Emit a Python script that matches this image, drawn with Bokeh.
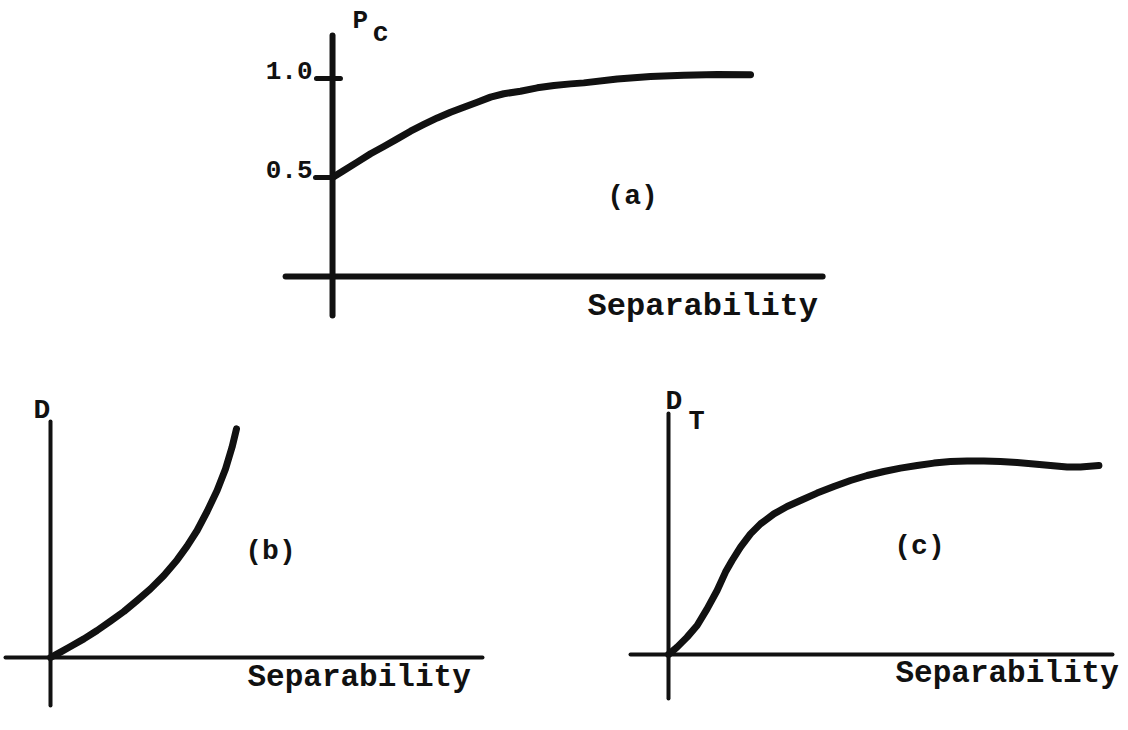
from bokeh.plotting import figure
from bokeh.layouts import column, row
from bokeh.models import Spacer
from bokeh.core.properties import value
from bokeh.embed import file_html
from bokeh.resources import INLINE

# ---- (a) probability of correct classification vs separability ----
sep_a = [0.0, 0.057, 0.125, 0.192, 0.259, 0.327, 0.394, 0.461, 0.529, 0.596,
         0.663, 0.731, 0.798, 0.865, 0.949, 1.034, 1.118, 1.202, 1.269, 1.438,
         1.606, 1.774, 1.943, 2.111]
pc_a = [0.50, 0.535, 0.578, 0.620, 0.657, 0.695, 0.734, 0.768, 0.801, 0.830,
        0.855, 0.880, 0.906, 0.923, 0.936, 0.953, 0.965, 0.973, 0.978, 0.998,
        1.010, 1.017, 1.020, 1.019]
a_xaxis = [-0.237, 2.475]
a_yaxis = [-0.197, 1.217]
a_ticks = [1.0, 0.5]
a_tick_labels = ["1.0", "0.5"]
a_tick_left = [-0.081, -0.086]
a_tick_right = [0.04, 0.0]

# ---- (b) divergence D vs separability ----
sep_b = [0.0, 0.05, 0.10, 0.167, 0.233, 0.30, 0.367, 0.433, 0.50, 0.567, 0.633,
         0.683, 0.733, 0.783, 0.833, 0.875, 0.908, 0.93]
d_b = [0.0, 0.027, 0.055, 0.093, 0.135, 0.182, 0.23, 0.285, 0.343, 0.41, 0.488,
       0.557, 0.635, 0.73, 0.835, 0.943, 1.052, 1.143]
b_xaxis = [-0.225, 2.16]
b_yaxis = [-0.24, 1.18]

# ---- (c) transformed divergence D_T vs separability ----
sep_c = [0.0, 0.043, 0.093, 0.143, 0.193, 0.243, 0.285, 0.318, 0.36, 0.41, 0.46,
         0.527, 0.593, 0.66, 0.743, 0.827, 0.91, 0.993, 1.077, 1.16, 1.243,
         1.327, 1.41, 1.493, 1.577, 1.66, 1.743, 1.827, 1.91, 1.993, 2.06, 2.152]
dt_c = [0.0, 0.037, 0.087, 0.145, 0.228, 0.32, 0.412, 0.47, 0.537, 0.603, 0.653,
        0.703, 0.74, 0.77, 0.807, 0.84, 0.87, 0.895, 0.915, 0.932, 0.945,
        0.957, 0.965, 0.968, 0.967, 0.965, 0.96, 0.953, 0.945, 0.937, 0.937, 0.945]
c_xaxis = [-0.19, 2.22]
c_yaxis = [-0.22, 1.205]

FONT = value("Liberation Mono")
INK = "#111111"
LIFT = 0.035  # raise alphabetic-baseline labels to sit on their baseline


def blank(width, height, xr, yr):
    p = figure(width=width, height=height, x_range=xr, y_range=yr,
               output_backend="svg", toolbar_location=None,
               min_border=0, min_border_left=0, min_border_right=0,
               min_border_top=0, min_border_bottom=0)
    p.axis.visible = False
    p.grid.visible = False
    p.outline_line_color = None
    p.background_fill_color = "white"
    p.border_fill_color = "white"
    return p


def label(p, x, y, txt, size, align="left", baseline="alphabetic"):
    if baseline == "alphabetic":
        y = y + LIFT
    p.text(x=[x], y=[y], text=[txt], text_font=FONT, text_font_size=size,
           text_align=align, text_baseline=baseline, text_color=INK,
           text_font_style="bold")


def axes(p, xa, ya, w):
    p.line(x=xa, y=[0, 0], line_width=w, line_color=INK, line_cap="round")
    p.line(x=[0, 0], y=ya, line_width=w, line_color=INK, line_cap="round")


def curve(p, xs, ys):
    p.line(x=xs, y=ys, line_width=7, line_color=INK,
           line_cap="round", line_join="round")


# panel (a)
pa = blank(600, 360, (-0.389, 2.641), (-0.424, 1.394))
axes(pa, a_xaxis, a_yaxis, 6)
for yv, x0, x1 in zip(a_ticks, a_tick_left, a_tick_right):
    pa.line(x=[x0, x1], y=[yv, yv], line_width=5, line_color=INK, line_cap="round")
for yv, txt in zip(a_ticks, a_tick_labels):
    label(pa, -0.101, yv + 0.005, txt, "26px", align="right")
curve(pa, sep_a, pc_a)
label(pa, 0.101, 1.258, "P", "26px")
label(pa, 0.202, 1.19, "c", "27px")
label(pa, 1.515, 0.404, "(a)", "28px", align="center", baseline="middle")
label(pa, 1.288, -0.187, "Separability", "32px")

# panel (b)
pb = blank(500, 370, (-0.25, 2.25), (-0.365, 1.485))
axes(pb, b_xaxis, b_yaxis, 4)
curve(pb, sep_b, d_b)
label(pb, -0.085, 1.2, "D", "28px")
label(pb, 1.1, 0.53, "(b)", "28px", align="center", baseline="middle")
label(pb, 0.985, -0.135, "Separability", "31px")

# panel (c)
pc = blank(518, 370, (-0.29, 2.3), (-0.38, 1.47))
axes(pc, c_xaxis, c_yaxis, 4)
curve(pc, sep_c, dt_c)
label(pc, -0.015, 1.23, "D", "28px")
label(pc, 0.10, 1.13, "T", "27px")
label(pc, 1.255, 0.54, "(c)", "28px", align="center", baseline="middle")
label(pc, 1.135, -0.13, "Separability", "31px")

layout = column(
    row(Spacer(width=255, height=360), pa),
    row(pb, Spacer(width=110, height=370), pc),
)

open("out.html", "w").write(file_html(layout, INLINE))
